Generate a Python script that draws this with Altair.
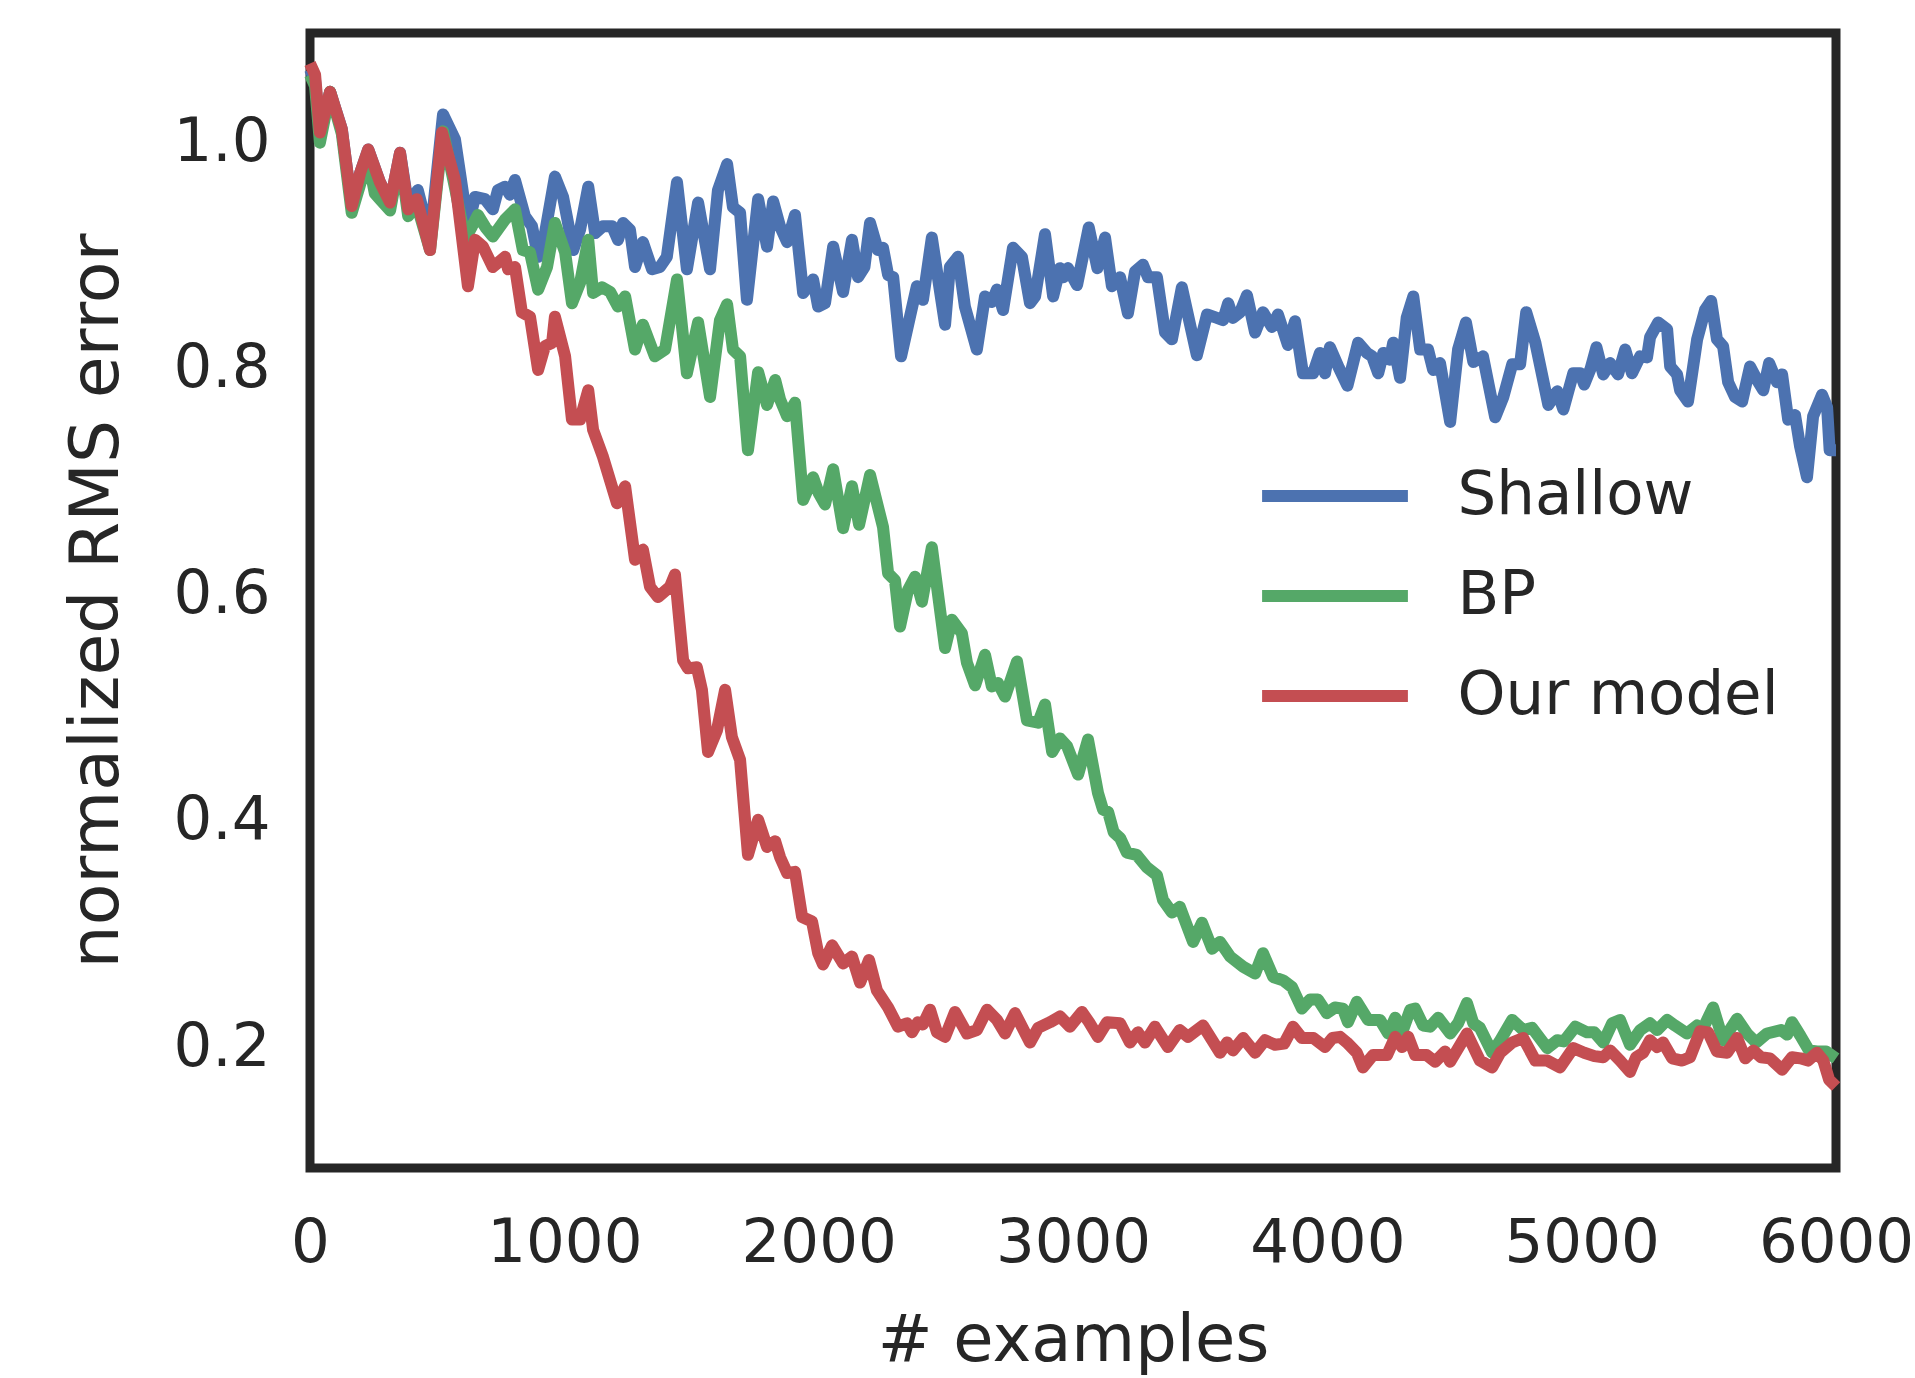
import altair as alt
import pandas as pd

series_names = ["Shallow", "BP", "Our model"]
series_colors = ["#4C72B0", "#55A868", "#C44E52"]
x_ticks = [0, 1000, 2000, 3000, 4000, 5000, 6000]
y_ticks = [0.2, 0.4, 0.6, 0.8, 1.0]

shallow_x = [0, 20, 39, 79, 125, 164, 197, 229, 275, 315, 354, 386, 424, 472, 523, 570, 621, 649, 688, 719,
             739, 767, 786, 806, 845, 873, 897, 924, 963, 995, 1035, 1062, 1094, 1121, 1152, 1188, 1211, 1231,
             1258, 1278, 1309, 1345, 1376, 1403, 1443, 1482, 1526, 1573, 1604, 1640, 1663, 1691, 1718, 1762,
             1797, 1821, 1848, 1876, 1907, 1939, 1978, 1998, 2025, 2057, 2096, 2131, 2155, 2180, 2202, 2233,
             2253, 2273, 2293, 2324, 2359, 2386, 2410, 2445, 2497, 2516, 2548, 2575, 2622, 2654, 2681, 2701,
             2725, 2764, 2799, 2831, 2851, 2890, 2922, 2949, 2963, 2980, 3016, 3062, 3096, 3126, 3153, 3185,
             3216, 3244, 3275, 3295, 3330, 3362, 3389, 3428, 3487, 3527, 3566, 3590, 3610, 3629, 3657, 3684,
             3716, 3747, 3782, 3806, 3845, 3873, 3904, 3944, 3971, 3991, 4010, 4045, 4079, 4121, 4156, 4176,
             4200, 4220, 4246, 4259, 4286, 4312, 4338, 4365, 4396, 4416, 4443, 4483, 4514, 4545, 4574, 4612,
             4660, 4692, 4727, 4758, 4782, 4818, 4869, 4904, 4928, 4967, 4994, 5010, 5035, 5058, 5085, 5112,
             5143, 5171, 5198, 5230, 5257, 5269, 5301, 5336, 5348, 5375, 5387, 5418, 5454, 5485, 5509, 5532,
             5556, 5576, 5603, 5631, 5662, 5690, 5714, 5737, 5768, 5788, 5812, 5839, 5859, 5886, 5910, 5945,
             5965, 5975, 6000]
shallow_y = [1.065, 1.055, 1.009, 1.045, 1.012, 0.944, 0.973, 0.994, 0.965, 0.947, 0.991, 0.945, 0.958, 0.915,
             1.025, 1.003, 0.926, 0.952, 0.950, 0.941, 0.958, 0.961, 0.954, 0.967, 0.935, 0.926, 0.899, 0.920,
             0.970, 0.952, 0.905, 0.923, 0.961, 0.920, 0.926, 0.926, 0.914, 0.929, 0.923, 0.890, 0.912, 0.888,
             0.890, 0.899, 0.965, 0.888, 0.947, 0.888, 0.958, 0.981, 0.943, 0.938, 0.861, 0.950, 0.908, 0.948,
             0.926, 0.912, 0.936, 0.867, 0.879, 0.855, 0.858, 0.908, 0.868, 0.914, 0.881, 0.890, 0.929, 0.905,
             0.907, 0.883, 0.881, 0.811, 0.846, 0.873, 0.861, 0.916, 0.839, 0.890, 0.899, 0.855, 0.817, 0.864,
             0.859, 0.870, 0.852, 0.907, 0.899, 0.858, 0.864, 0.919, 0.864, 0.889, 0.881, 0.889, 0.874, 0.925,
             0.889, 0.916, 0.873, 0.881, 0.849, 0.886, 0.892, 0.881, 0.881, 0.832, 0.826, 0.872, 0.812, 0.848,
             0.845, 0.843, 0.858, 0.845, 0.850, 0.865, 0.832, 0.850, 0.837, 0.848, 0.821, 0.842, 0.796, 0.796,
             0.814, 0.796, 0.819, 0.801, 0.785, 0.823, 0.814, 0.811, 0.796, 0.814, 0.808, 0.823, 0.792, 0.845,
             0.864, 0.817, 0.817, 0.799, 0.805, 0.753, 0.817, 0.841, 0.806, 0.811, 0.757, 0.775, 0.804, 0.804,
             0.850, 0.823, 0.768, 0.780, 0.764, 0.796, 0.796, 0.786, 0.800, 0.819, 0.795, 0.805, 0.795, 0.817,
             0.796, 0.811, 0.810, 0.828, 0.841, 0.835, 0.802, 0.795, 0.781, 0.771, 0.826, 0.852, 0.860, 0.826,
             0.820, 0.788, 0.775, 0.771, 0.802, 0.790, 0.781, 0.805, 0.788, 0.795, 0.755, 0.759, 0.731, 0.704,
             0.758, 0.777, 0.766, 0.728, 0.728]

bp_x = [0, 20, 39, 79, 125, 164, 197, 229, 255, 275, 315, 354, 386, 420, 472, 523, 570, 610, 637, 660, 690,
        719, 767, 806, 837, 865, 897, 932, 963, 1003, 1030, 1062, 1094, 1113, 1148, 1180, 1211, 1239, 1278,
        1309, 1356, 1396, 1443, 1482, 1526, 1573, 1612, 1640, 1663, 1691, 1722, 1762, 1797, 1829, 1848, 1876,
        1907, 1939, 1978, 2000, 2025, 2057, 2096, 2131, 2159, 2202, 2253, 2273, 2300, 2320, 2351, 2379, 2406,
        2445, 2497, 2524, 2563, 2583, 2615, 2654, 2681, 2705, 2733, 2780, 2819, 2863, 2890, 2918, 2949, 2977,
        3020, 3059, 3098, 3118, 3138, 3160, 3185, 3212, 3250, 3290, 3330, 3354, 3389, 3420, 3472, 3507, 3547,
        3578, 3618, 3669, 3716, 3747, 3787, 3826, 3861, 3900, 3932, 3963, 3998, 4030, 4061, 4081, 4116, 4160,
        4207, 4239, 4267, 4294, 4326, 4345, 4377, 4404, 4436, 4483, 4514, 4549, 4574, 4600, 4648, 4680, 4727,
        4770, 4805, 4865, 4904, 4930, 4975, 5021, 5050, 5085, 5120, 5151, 5190, 5230, 5269, 5297, 5336, 5367,
        5414, 5454, 5474, 5517, 5556, 5611, 5650, 5686, 5729, 5784, 5808, 5827, 5860, 5894, 5925, 5961, 6000]
bp_y = [1.060, 1.050, 1.000, 1.045, 1.008, 0.938, 0.963, 0.985, 0.955, 0.950, 0.940, 0.988, 0.935, 0.945,
        0.905, 1.010, 0.960, 0.915, 0.926, 0.936, 0.925, 0.917, 0.932, 0.941, 0.905, 0.903, 0.870, 0.890,
        0.929, 0.903, 0.858, 0.876, 0.914, 0.867, 0.872, 0.868, 0.855, 0.864, 0.817, 0.839, 0.811, 0.817,
        0.879, 0.796, 0.841, 0.775, 0.843, 0.857, 0.817, 0.811, 0.728, 0.797, 0.768, 0.790, 0.773, 0.758,
        0.770, 0.684, 0.704, 0.690, 0.680, 0.711, 0.659, 0.696, 0.662, 0.706, 0.660, 0.619, 0.613, 0.572,
        0.604, 0.616, 0.594, 0.642, 0.553, 0.578, 0.566, 0.540, 0.520, 0.547, 0.519, 0.522, 0.510, 0.541,
        0.489, 0.487, 0.503, 0.461, 0.473, 0.466, 0.441, 0.472, 0.425, 0.410, 0.408, 0.390, 0.385, 0.372,
        0.370, 0.359, 0.352, 0.330, 0.319, 0.324, 0.293, 0.310, 0.287, 0.293, 0.280, 0.271, 0.265, 0.283,
        0.262, 0.259, 0.253, 0.234, 0.242, 0.242, 0.230, 0.235, 0.234, 0.222, 0.240, 0.224, 0.224, 0.212,
        0.226, 0.213, 0.233, 0.234, 0.219, 0.218, 0.226, 0.212, 0.221, 0.239, 0.221, 0.217, 0.195, 0.206,
        0.224, 0.215, 0.217, 0.199, 0.206, 0.205, 0.218, 0.213, 0.213, 0.204, 0.221, 0.224, 0.202, 0.215,
        0.221, 0.215, 0.224, 0.219, 0.212, 0.219, 0.215, 0.235, 0.206, 0.225, 0.212, 0.204, 0.212, 0.215,
        0.211, 0.222, 0.210, 0.197, 0.196, 0.196, 0.190]

our_x = [0, 20, 39, 79, 125, 164, 197, 229, 275, 315, 354, 386, 420, 472, 519, 570, 621, 649, 680, 719, 767,
         779, 806, 833, 865, 897, 924, 952, 963, 1003, 1030, 1062, 1094, 1113, 1152, 1207, 1239, 1278, 1309,
         1337, 1368, 1415, 1435, 1467, 1486, 1521, 1541, 1565, 1600, 1632, 1659, 1691, 1722, 1762, 1797, 1829,
         1848, 1876, 1907, 1935, 1974, 1998, 2017, 2053, 2096, 2131, 2163, 2198, 2229, 2273, 2312, 2347, 2367,
         2390, 2410, 2438, 2465, 2497, 2536, 2583, 2622, 2662, 2701, 2733, 2772, 2831, 2863, 2910, 2949, 2988,
         3035, 3063, 3098, 3134, 3185, 3224, 3255, 3283, 3322, 3373, 3420, 3452, 3511, 3578, 3606, 3629, 3669,
         3716, 3755, 3794, 3830, 3865, 3900, 3945, 3991, 4020, 4050, 4077, 4116, 4140, 4180, 4235, 4267, 4294,
         4318, 4345, 4390, 4424, 4463, 4483, 4549, 4600, 4648, 4680, 4727, 4770, 4818, 4865, 4915, 4967, 5010,
         5050, 5085, 5112, 5151, 5190, 5214, 5242, 5269, 5297, 5320, 5356, 5395, 5426, 5466, 5497, 5532, 5572,
         5611, 5643, 5675, 5705, 5740, 5788, 5827, 5860, 5890, 5925, 5950, 5973, 6000]
our_y = [1.070, 1.060, 1.009, 1.045, 1.012, 0.944, 0.973, 0.994, 0.965, 0.947, 0.991, 0.941, 0.950, 0.905,
         1.009, 0.967, 0.873, 0.914, 0.908, 0.890, 0.899, 0.888, 0.890, 0.850, 0.846, 0.799, 0.820, 0.823,
         0.846, 0.811, 0.755, 0.755, 0.781, 0.746, 0.722, 0.681, 0.696, 0.631, 0.640, 0.607, 0.598, 0.607,
         0.618, 0.542, 0.535, 0.536, 0.516, 0.461, 0.480, 0.516, 0.474, 0.454, 0.370, 0.401, 0.377, 0.382,
         0.368, 0.354, 0.355, 0.315, 0.311, 0.283, 0.273, 0.290, 0.274, 0.280, 0.257, 0.277, 0.250, 0.235,
         0.218, 0.221, 0.213, 0.222, 0.220, 0.233, 0.213, 0.209, 0.231, 0.212, 0.215, 0.233, 0.224, 0.212,
         0.230, 0.204, 0.217, 0.222, 0.227, 0.218, 0.231, 0.222, 0.209, 0.222, 0.221, 0.204, 0.213, 0.204,
         0.218, 0.200, 0.215, 0.209, 0.219, 0.195, 0.204, 0.197, 0.208, 0.195, 0.206, 0.202, 0.203, 0.218,
         0.208, 0.208, 0.200, 0.208, 0.209, 0.204, 0.195, 0.182, 0.193, 0.193, 0.209, 0.200, 0.209, 0.193,
         0.193, 0.187, 0.196, 0.187, 0.212, 0.188, 0.182, 0.195, 0.204, 0.208, 0.188, 0.188, 0.182, 0.199,
         0.195, 0.192, 0.191, 0.197, 0.188, 0.178, 0.191, 0.195, 0.206, 0.200, 0.204, 0.190, 0.188, 0.191,
         0.214, 0.213, 0.196, 0.195, 0.208, 0.190, 0.197, 0.191, 0.190, 0.180, 0.191, 0.190, 0.188, 0.195,
         0.188, 0.171, 0.165]

rows = []
for name, xs, ys in zip(series_names, [shallow_x, bp_x, our_x], [shallow_y, bp_y, our_y]):
    for i, (xv, yv) in enumerate(zip(xs, ys)):
        rows.append({"series": name, "examples": xv, "error": yv, "idx": i})
df = pd.DataFrame(rows)

FONT = "DejaVu Sans"
INK = "#262626"
TICK_FS = 61
LW = 12

base = alt.Chart(df).mark_line(strokeWidth=LW, strokeJoin="round", strokeCap="butt").encode(
    x=alt.X("examples:Q",
            scale=alt.Scale(domain=[0, 6000], nice=False, zero=False),
            axis=alt.Axis(values=x_ticks, format="d", title="# examples",
                          labelPadding=45, titlePadding=35, titleFontSize=65.5,
                          labelFlush=False, labelOverlap=False, labelBound=False)),
    y=alt.Y("error:Q",
            scale=alt.Scale(domain=[0.093, 1.097], nice=False, zero=False),
            axis=alt.Axis(values=y_ticks, format=".1f", title="normalized RMS error",
                          labelPadding=40, titlePadding=41, titleFontSize=68)),
    color=alt.Color("series:N",
                    scale=alt.Scale(domain=series_names, range=series_colors),
                    legend=alt.Legend(title=None, orient="none", legendX=992, legendY=430,
                                      symbolType="M-2.7,0H2.7", symbolSize=2916,
                                      symbolStrokeWidth=LW, labelFontSize=TICK_FS, labelFont=FONT,
                                      labelColor=INK, labelOffset=89.5, rowPadding=37,
                                      padding=0, labelLimit=800)),
    order=alt.Order("idx:Q"),
)

layers = [base.transform_filter(alt.datum.series == n) for n in series_names]

chart = alt.layer(*layers).properties(
    width=1526, height=1135,
    autosize=alt.AutoSizeParams(type="none"),
    padding={"left": 310, "top": 33, "right": 79, "bottom": 210},
    background="white",
).configure_view(
    stroke=INK, strokeWidth=9
).configure_axis(
    labelFont=FONT, labelFontSize=TICK_FS, labelColor=INK,
    titleFont=FONT, titleColor=INK, titleFontWeight="normal",
    grid=False, ticks=False, tickSize=0, domain=False,
)

chart.save("out.html", embed_options={"renderer": "svg", "actions": False})
